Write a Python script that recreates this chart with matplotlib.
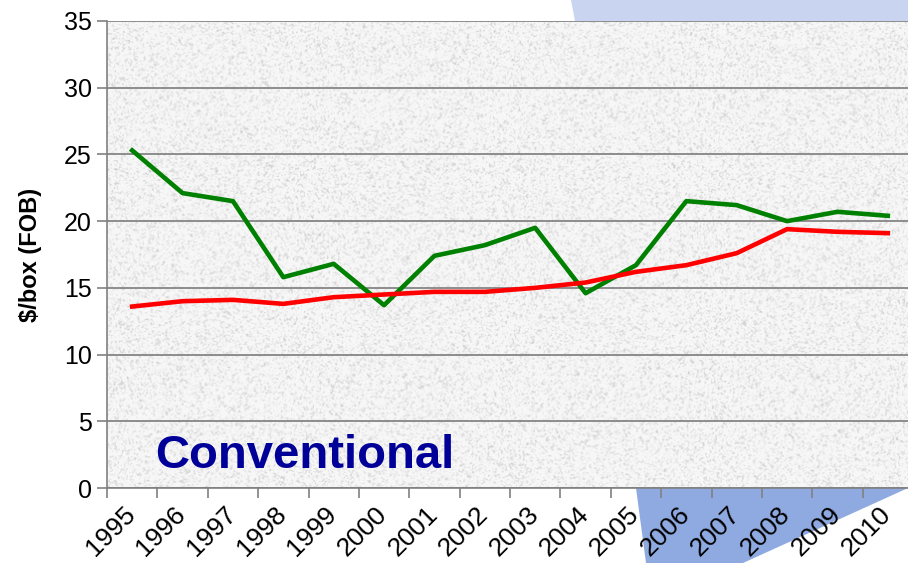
import numpy as np
import matplotlib.pyplot as plt
import matplotlib.transforms as mtransforms
from matplotlib.patches import Polygon

plt.rcParams['font.family'] = ['Liberation Sans', 'DejaVu Sans']

years = ['1995', '1996', '1997', '1998', '1999', '2000', '2001', '2002',
         '2003', '2004', '2005', '2006', '2007', '2008', '2009', '2010']
green_price = [25.3, 22.1, 21.5, 15.8, 16.8, 13.7, 17.4, 18.2,
               19.5, 14.6, 16.7, 21.5, 21.2, 20.0, 20.7, 20.4]
red_price = [13.6, 14.0, 14.1, 13.8, 14.3, 14.5, 14.7, 14.7,
             15.0, 15.4, 16.2, 16.7, 17.6, 19.4, 19.2, 19.1]

W, H = 908, 563
fig = plt.figure(figsize=(W / 100, H / 100), dpi=100)

# slide decorations behind the chart
def px_poly(pts, color):
    xy = [(x / W, 1 - y / H) for x, y in pts]
    fig.patches.append(Polygon(xy, closed=True, transform=fig.transFigure,
                               facecolor=color, edgecolor='none', zorder=-5))

px_poly([(571, 0), (908, 0), (908, 21), (575, 21)], '#c9d5f0')
px_poly([(636, 488), (908, 488), (743, 563), (646, 563)], '#8eaae0')

ax = fig.add_axes([107 / W, (H - 488) / H, 806 / W, 467 / H])
ax.patch.set_alpha(0)

# grainy texture fill for the plot area
rng = np.random.default_rng(3)
tex = rng.random((470, 810))
k = np.ones(2) / 2
tex = np.apply_along_axis(lambda r: np.convolve(r, k, mode='same'), 1, tex)
tex = np.apply_along_axis(lambda c: np.convolve(c, k, mode='same'), 0, tex)
tex = 0.965 - 0.38 * np.clip(tex - 0.5, 0, 1)
ax.imshow(tex, cmap='gray', vmin=0, vmax=1, extent=(-0.5, 15.5, 0, 35),
          aspect='auto', interpolation='bilinear', zorder=0)

x = np.arange(len(years))
ax.plot(x, green_price, color='#008000', lw=3.3, zorder=3)
ax.plot(x, red_price, color='#ff0000', lw=3.3, zorder=3)

ax.set_xlim(-0.5, 15.5)
ax.set_ylim(0, 35)
ax.set_yticks(range(0, 36, 5))
ax.yaxis.grid(True, color='#858585', lw=1.3)
for gl in ax.yaxis.get_gridlines():
    gl.set_zorder(1)

ax.set_xticks(np.arange(-0.5, 15.6, 1))
ax.set_xticklabels([])
ax.set_xticks(x, minor=True)
ax.set_xticklabels(years, minor=True, rotation=45, ha='right',
                   rotation_mode='anchor', fontsize=19)
ax.tick_params(axis='x', which='minor', length=0, pad=10)
ax.tick_params(axis='x', which='major', length=7, color='#808080', width=1.2)
ax.tick_params(axis='y', length=7, color='#808080', width=1.2,
               labelsize=18, pad=4)
shift = mtransforms.ScaledTranslation(-9 / 100, 0, fig.dpi_scale_trans)
for lab in ax.get_xticklabels(minor=True):
    lab.set_transform(lab.get_transform() + shift)

for s in ['top', 'right']:
    ax.spines[s].set_visible(False)
for s in ['left', 'bottom']:
    ax.spines[s].set_color('#808080')
    ax.spines[s].set_linewidth(1.2)

ax.set_ylabel('$/box (FOB)', fontsize=17, fontweight='bold', labelpad=16)

ax.text(0.06, 0.043, 'Conventional', transform=ax.transAxes,
        fontsize=34, fontweight='bold', color='#000099', zorder=4)

fig.savefig('out.png', dpi=100)
